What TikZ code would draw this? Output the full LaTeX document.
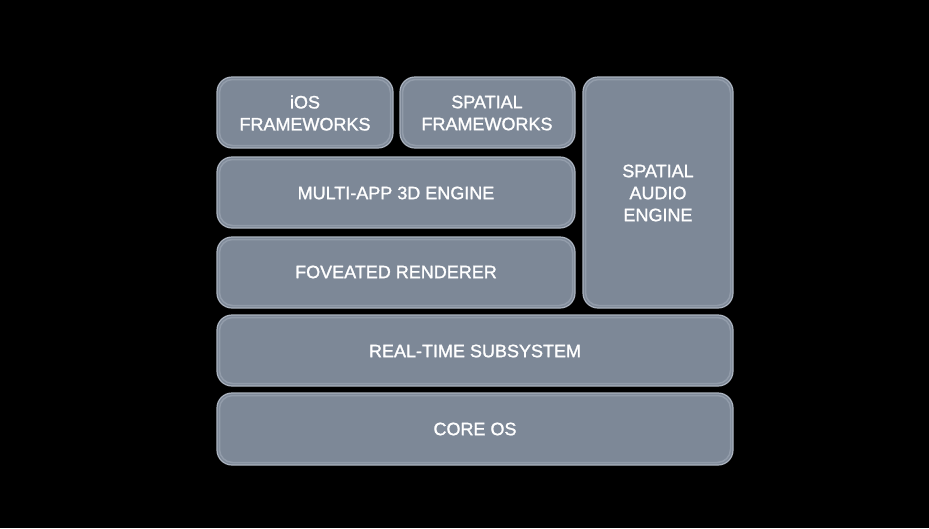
\documentclass[tikz,border=0pt]{standalone}
\usepackage{fontspec}
\setmainfont{Liberation Sans}[FakeBold=1.3]
\definecolor{boxfill}{RGB}{125,136,151}
\definecolor{boxedge}{RGB}{172,180,192}
\definecolor{boxglow}{RGB}{146,156,170}
\begin{document}
\begin{tikzpicture}[x=1pt,y=-1pt,
  layer/.style={draw=boxedge, line width=1.2pt, fill=boxfill, rounded corners=15pt},
  lbl/.style={text=white, font=\fontsize{18}{22}\selectfont, align=center}]
\fill[black] (0,0) rectangle (929,528);
\useasboundingbox (0,0) rectangle (929,528);
% boxes
\draw[layer] (217,77) rectangle (393,148);
\draw[layer] (400,77) rectangle (575,148);
\draw[layer] (217,157) rectangle (575,228);
\draw[layer] (217,237) rectangle (575,308);
\draw[layer] (583,77) rectangle (733,308);
\draw[layer] (217,315) rectangle (733,386);
\draw[layer] (217,393) rectangle (733,465);
% inner glow
\begin{scope}[draw=boxglow, line width=1.5pt, rounded corners=13pt]
\draw (219.5,79.5) rectangle (390.5,145.5);
\draw (402.5,79.5) rectangle (572.5,145.5);
\draw (219.5,159.5) rectangle (572.5,225.5);
\draw (219.5,239.5) rectangle (572.5,305.5);
\draw (585.5,79.5) rectangle (730.5,305.5);
\draw (219.5,317.5) rectangle (730.5,383.5);
\draw (219.5,395.5) rectangle (730.5,462.5);
\end{scope}
% labels
\node[lbl] (ios) at (305,113) {iOS\\FRAMEWORKS};
\node[lbl] (spf) at (487,113) {SPATIAL\\FRAMEWORKS};
\node[lbl] (mae) at (396,193) {MULTI-APP 3D ENGINE};
\node[lbl] (fov) at (396,272) {FOVEATED RENDERER};
\node[lbl] (sae) at (658,193) {SPATIAL\\AUDIO\\ENGINE};
\node[lbl] (rts) at (475,351) {REAL-TIME SUBSYSTEM};
\node[lbl] (cos) at (475,429) {CORE OS};
\end{tikzpicture}
\end{document}
